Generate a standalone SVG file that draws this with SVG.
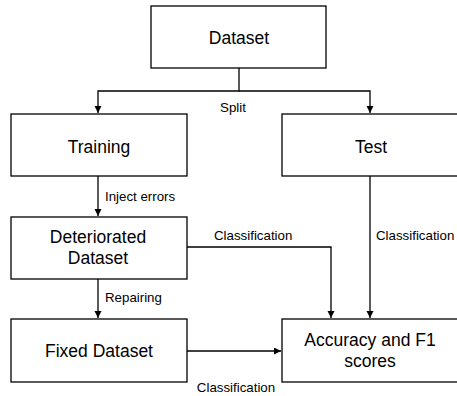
<svg xmlns="http://www.w3.org/2000/svg" width="457" height="396" viewBox="0 0 457 396">
<defs>
<marker id="ah" markerWidth="8" markerHeight="8" refX="7" refY="3.5" orient="auto" markerUnits="userSpaceOnUse">
<path d="M0,0 L7,3.5 L0,7 Z" fill="#000"/>
</marker>
<style>
.box{fill:#fff;stroke:#000;stroke-width:1.3}
.t{font-family:"Liberation Sans",Arial,sans-serif;font-size:17.5px;text-anchor:middle;fill:#000}
.l{font-family:"Liberation Sans",Arial,sans-serif;font-size:13.3px;fill:#000}
.c{fill:none;stroke:#000;stroke-width:1.3}
</style>
</defs>
<rect width="457" height="396" fill="#fff"/>
<g id="connectors">
<path class="c" d="M239,68 V91 H98 V113" marker-end="url(#ah)"/>
<path class="c" d="M239,91 H370 V113" marker-end="url(#ah)"/>
<path class="c" d="M98,176 V216" marker-end="url(#ah)"/>
<path class="c" d="M98,279 V318" marker-end="url(#ah)"/>
<path class="c" d="M187,247 H331 V318" marker-end="url(#ah)"/>
<path class="c" d="M370,176 V318" marker-end="url(#ah)"/>
<path class="c" d="M187,351 H281" marker-end="url(#ah)"/>
<text class="l" x="233" y="112" text-anchor="middle">Split</text>
<text class="l" x="105" y="201">Inject errors</text>
<text class="l" x="214" y="240">Classification</text>
<text class="l" x="376" y="240">Classification</text>
<text class="l" x="105" y="302">Repairing</text>
<text class="l" x="236" y="392" text-anchor="middle">Classification</text>
</g>
<g id="dataset">
<rect class="box" x="151" y="6" width="175" height="62"/>
<text class="t" x="239" y="44">Dataset</text>
</g>
<g id="training">
<rect class="box" x="11" y="114" width="176" height="62"/>
<text class="t" x="99" y="153">Training</text>
</g>
<g id="test">
<rect class="box" x="282" y="114" width="180" height="62"/>
<text class="t" x="371" y="153">Test</text>
</g>
<g id="deteriorated">
<rect class="box" x="11" y="217" width="176" height="62"/>
<text class="t" x="98" y="243">Deteriorated</text>
<text class="t" x="98" y="264">Dataset</text>
</g>
<g id="fixed">
<rect class="box" x="11" y="319" width="176" height="63"/>
<text class="t" x="99" y="357">Fixed Dataset</text>
</g>
<g id="accuracy">
<rect class="box" x="282" y="319" width="180" height="63"/>
<text class="t" x="370" y="346">Accuracy and F1</text>
<text class="t" x="370" y="367">scores</text>
</g>
</svg>
